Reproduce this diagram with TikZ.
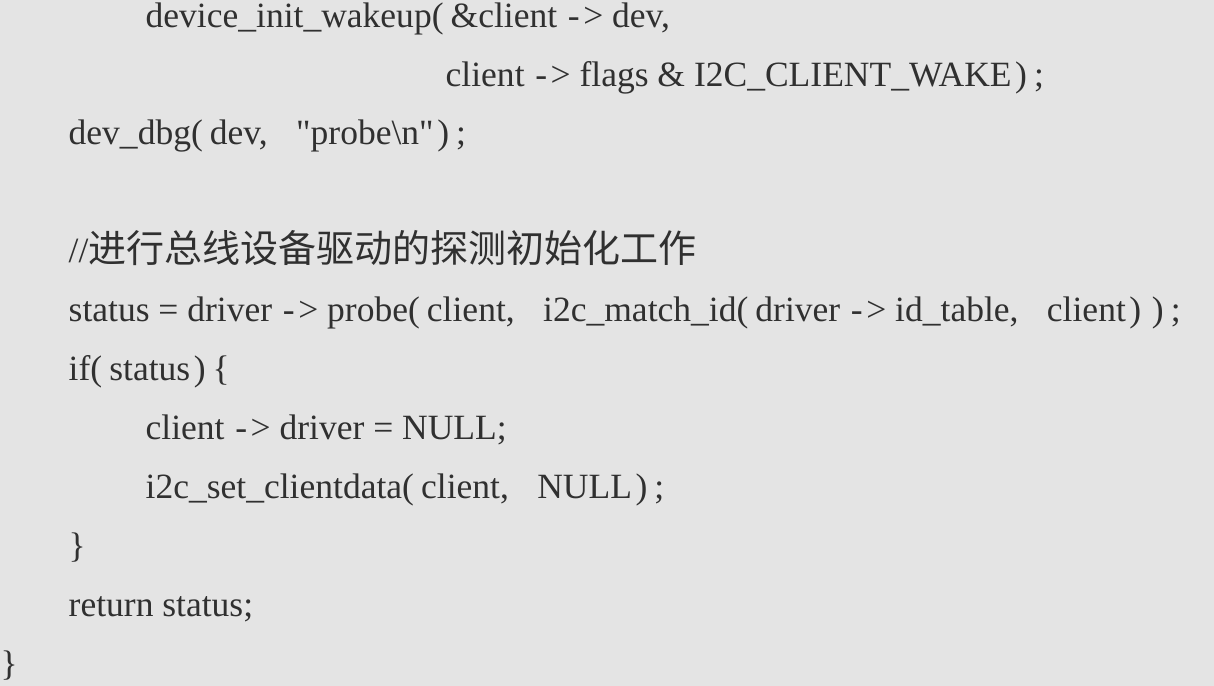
\documentclass[tikz,border=0pt]{standalone}
\usepackage{fontspec}
\setmainfont{Liberation Serif}
\newfontfamily\plainfont{Liberation Serif}
\newfontfamily\cjk{Noto Sans CJK SC}[Scale=1.07]
\definecolor{bg}{HTML}{E4E4E4}
\definecolor{ink}{HTML}{303030}
\newcommand{\cm}{,\hspace{0.8em}}
\newcommand{\ar}{\hspace{0.3em}-\hspace{0.1em}>\hspace{0.25em}}
\newcommand{\lp}{(\hspace{0.2em}}
\newcommand{\rp}{\hspace{0.1em})\hspace{0.2em}}
\newcommand{\qt}{{\plainfont"}}
\begin{document}
\begin{tikzpicture}[x=0.01cm,y=0.01cm,
  code/.style={anchor=base west,inner sep=0,text=ink,font=\fontsize{10.1pt}{12pt}\selectfont}]
\fill[bg] (0,0) rectangle (1214,686);
\useasboundingbox (0,0) rectangle (1214,686);
\node[code] (l1) at (145,658) {device\_init\_wakeup\lp\&client\ar dev,};
\node[code] (l2) at (445,599) {client\ar flags \& I2C\_CLIENT\_WAKE\rp;};
\node[code] (l3) at (68,541) {dev\_dbg\lp dev\cm\qt probe\textbackslash n\qt\rp;};
\node[code] (l5) at (68,423) {//{\cjk 进行总线设备驱动的探测初始化工作}};
\node[code] (l6) at (68,364) {status = driver\ar probe\lp client\cm i2c\_match\_id\lp driver\ar id\_table\cm client\rp\rp;};
\node[code] (l7) at (68,305) {if\lp status\rp\{};
\node[code] (l8) at (145,246) {client\ar driver = NULL;};
\node[code] (l9) at (145,187) {i2c\_set\_clientdata\lp client\cm NULL\rp;};
\node[code] (l10) at (68,128) {\}};
\node[code] (l11) at (68,69) {return status;};
\node[code] (l12) at (0,10) {\}};
\end{tikzpicture}
\end{document}
